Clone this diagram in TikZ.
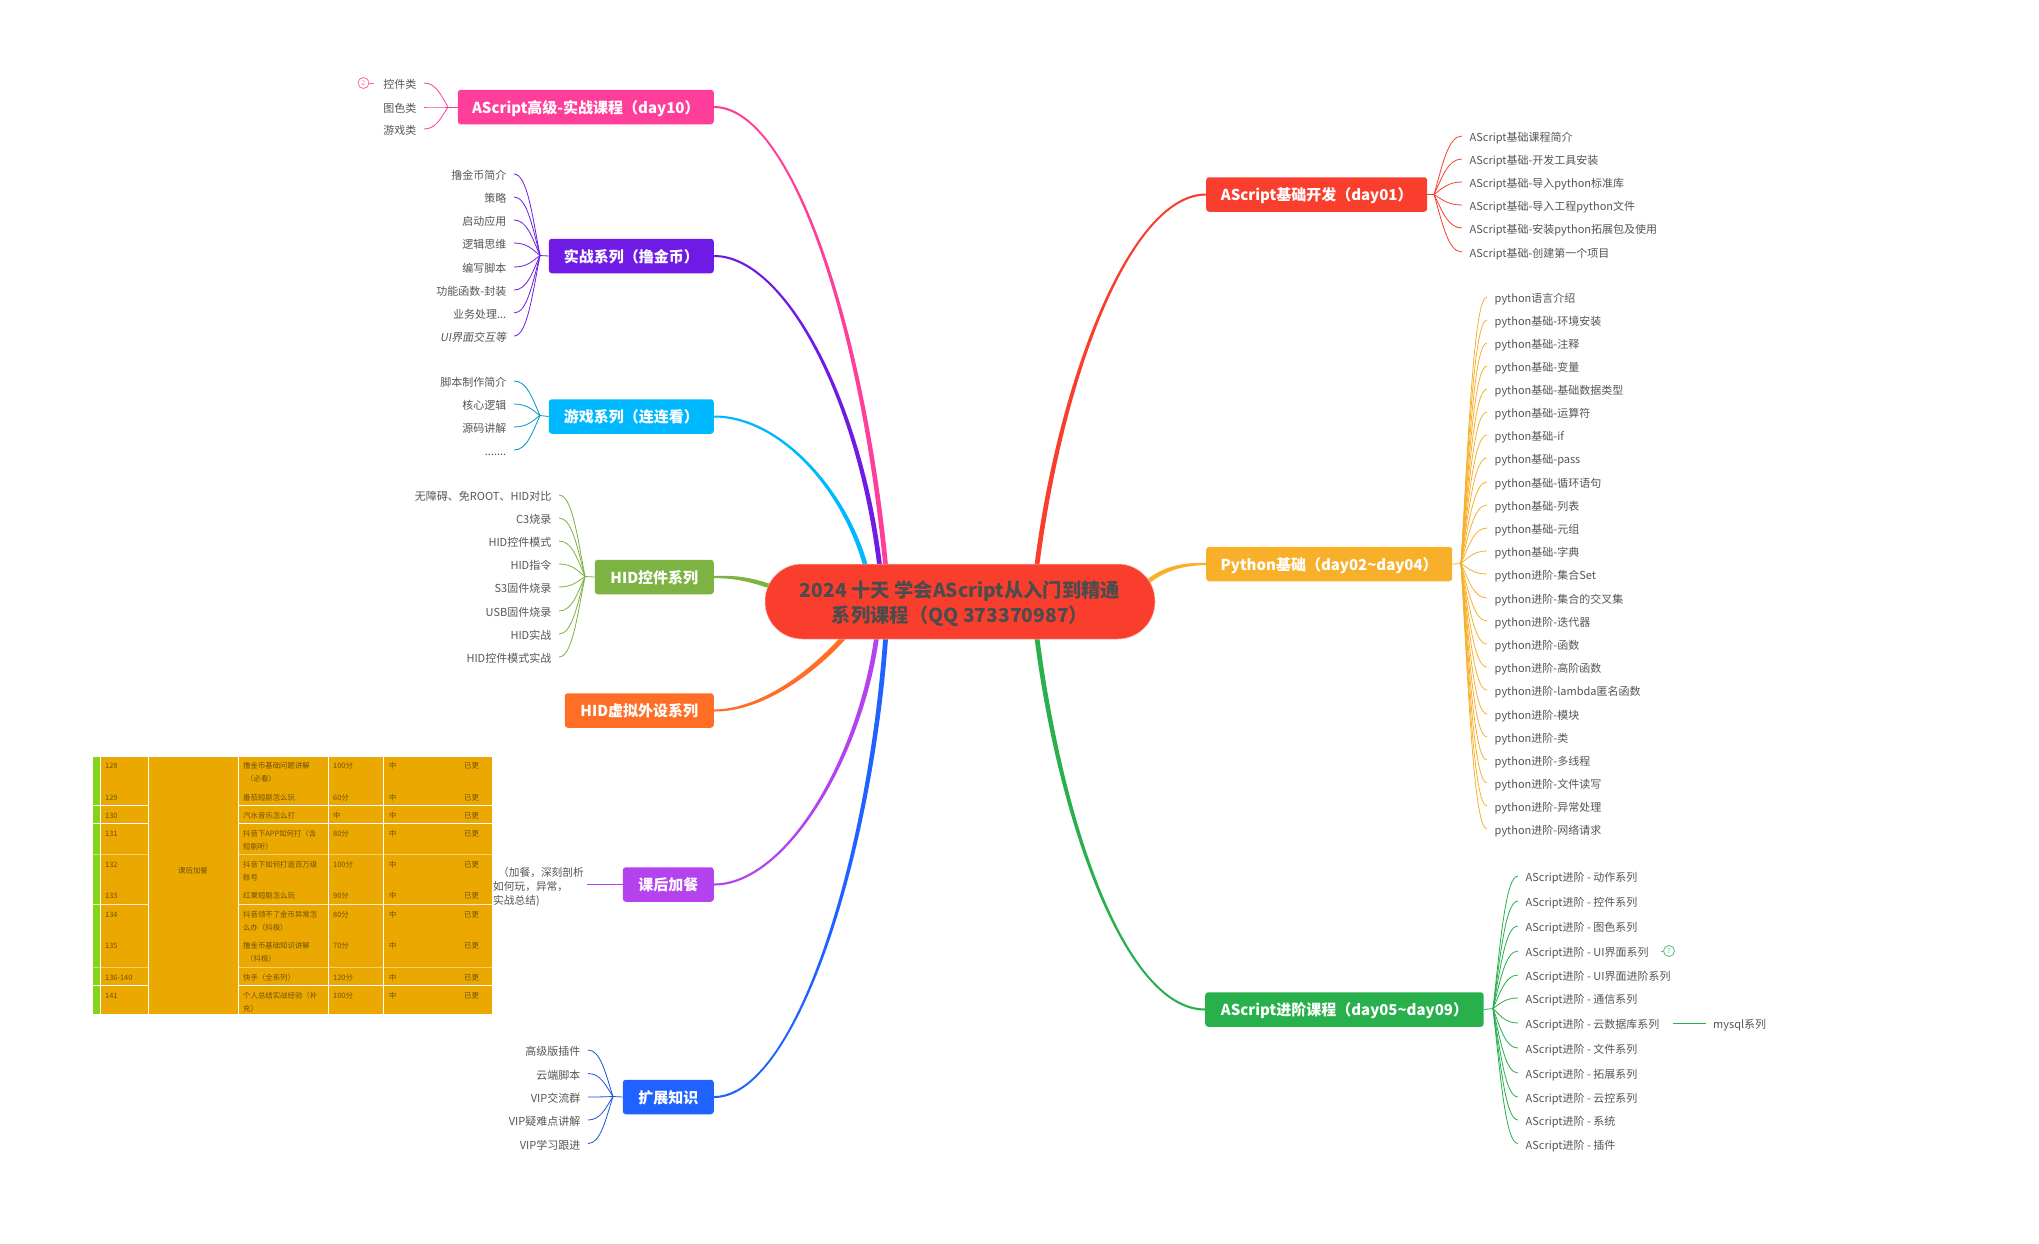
\documentclass[tikz,border=0pt]{standalone}
\usepackage{fontspec}
\setmainfont{Noto Sans CJK SC}
\newfontfamily\slfont[FakeSlant=0.18]{Noto Sans CJK SC}
\usetikzlibrary{calc,backgrounds}
\definecolor{cpink}{HTML}{FF3E9A}
\definecolor{cviolet}{HTML}{701BE5}
\definecolor{ccyan}{HTML}{00B8FF}
\definecolor{colive}{HTML}{7CB342}
\definecolor{corange}{HTML}{FF6D27}
\definecolor{cmauve}{HTML}{B542EF}
\definecolor{cblue}{HTML}{1F62FF}
\definecolor{cred}{HTML}{FA3E2E}
\definecolor{cyellow}{HTML}{F8B02A}
\definecolor{cgreen}{HTML}{27B04B}
\definecolor{ctxt}{HTML}{555555}
\definecolor{camber}{HTML}{EBA800}
\definecolor{cstrip}{HTML}{84D41C}
\definecolor{ctab}{HTML}{6F5206}
\tikzset{
  branchbox/.style={rounded corners=3pt,inner sep=0pt,text=white,anchor=east,minimum height=34.5pt,
    text height=15pt,text depth=2.6pt,font=\fontsize{15}{18}\selectfont\bfseries},
  rootbox/.style={rounded corners=37pt,inner sep=0pt,fill=cred,minimum width=390pt,minimum height=75pt,
    draw=cred!35,line width=.5pt},
  roottext/.style={inner sep=0pt,align=center,text=ctxt!90!black,font=\fontsize{19.3}{25}\selectfont\bfseries},
  leaftext/.style={inner xsep=7.5pt,inner ysep=0pt,text=ctxt,text height=13.5pt,text depth=2pt,
    font=\fontsize{11}{13}\selectfont},
  leafline/.style={line width=.8pt},
  tabcell/.style={inner sep=0pt,anchor=west,text=ctab,font=\fontsize{7.4}{9}\selectfont},
  tabline/.style={white,line width=.8pt},
  markcirc/.style={circle,draw,inner sep=0pt,minimum size=11pt,line width=.8pt,font=\fontsize{6.5}{7}\selectfont},
}
% tapered main connector: colour, start, control 1, control 2, end, half-width vector
\newcommand{\taper}[6]{%
  \coordinate (E) at #5;
  \fill[#1] ($(#2)+(0,-1)$) .. controls ($(#3)+(0,-1.6)$) and ($(#4)+(#6)$) .. ($(E)+(#6)$) -- ($(E)-(#6)$)
     .. controls ($(#4)-(#6)$) and ($(#3)+(0,1.6)$) .. ($(#2)+(0,1)$) -- cycle;}
% leaves: prefix, colour, junction x, y, leaf edge x, anchor, list y/text
\newcommand{\leaves}[7]{%
  \coordinate (#1j) at (#3,#4);
  \foreach \yy/\tt [count=\k] in {#7}{
    \node[leaftext,anchor=#6] (#1\k) at (#5,\yy) {\tt};
    \draw[leafline,#2] (#1j) .. controls ({#3+0.3*(#5-#3)},{#4+0.5*(\yy-#4)}) and ({#3+0.5*(#5-#3)},\yy) .. (#1\k.#6);
  }}
\begin{document}
\begin{tikzpicture}[x=1pt,y=-1pt]
\begin{scope}[on background layer]
  \path[use as bounding box,fill=white] (0,0) rectangle (2039,1243);
\end{scope}

% root
\node[rootbox] (root) at (960,601.5) {};
\node[roottext] (roottxt) at (960,604) {2024 十天 学会AScript从入门到精通\\系列课程（QQ 373370987）};

% branches
\node[branchbox,fill=cpink,minimum width=256pt] (b1) at (714,107) {AScript高级-实战课程（day10）};
\node[branchbox,fill=cviolet,minimum width=165pt] (b2) at (714,256) {实战系列（撸金币）};
\node[branchbox,fill=ccyan,minimum width=165pt] (b3) at (714,416.5) {游戏系列（连连看）};
\node[branchbox,fill=colive,minimum width=119pt] (b4) at (714,577) {HID控件系列};
\node[branchbox,fill=corange,minimum width=149pt] (b5) at (714,710.5) {HID虚拟外设系列};
\node[branchbox,fill=cmauve,minimum width=91pt] (b6) at (714,884.5) {课后加餐};
\node[branchbox,fill=cblue,minimum width=91pt] (b7) at (714,1097) {扩展知识};
\node[branchbox,fill=cred,minimum width=221pt,anchor=west] (b8) at (1206,194.5) {AScript基础开发（day01）};
\node[branchbox,fill=cyellow,minimum width=246pt,anchor=west] (b9) at (1206,564) {Python基础（day02\char"007E day04）};
\node[branchbox,fill=cgreen,minimum width=278.5pt,anchor=west] (b10) at (1205,1009.5) {AScript进阶课程（day05\char"007E day09）};

% main connectors, under the root
\begin{scope}[on background layer]
  \taper{cpink}{b1.east}{790,107}{862,320}{($(root.north west)+(121,3)$)}{2.4,0}
  \taper{cviolet}{b2.east}{785,256}{860,400}{($(root.north west)+(115,3)$)}{2.4,0}
  \taper{ccyan}{b3.east}{780,416.5}{845,490}{($(root.north west)+(101,3)$)}{2.4,0}
  \taper{colive}{b4.east}{735,577}{750,578}{($(root.north west)+(20,28)$)}{.8,-2.2}
  \taper{corange}{b5.east}{760,710.5}{810,675}{($(root.south west)+(80,-3)$)}{-1.8,-1.8}
  \taper{cmauve}{b6.east}{785,884.5}{860,760}{($(root.south west)+(112,-3)$)}{-2.4,0}
  \taper{cblue}{b7.east}{795,1097}{870,860}{($(root.south west)+(121,-3)$)}{-2.4,0}
  \taper{cred}{b8.west}{1130,194.5}{1060,380}{($(root.north west)+(272,3)$)}{-2.4,0}
  \taper{cyellow}{b9.west}{1185,564}{1165,567}{($(root.north east)+(-10,20)$)}{-.9,-2.1}
  \taper{cgreen}{b10.west}{1125,1009.5}{1060,820}{($(root.south west)+(272,-3)$)}{2.4,0}
\end{scope}

% left leaves
\leaves{a}{cpink}{448}{107}{424}{east}{83/{控件类},107/{图色类},129/{游戏类}}
\draw[leafline,cpink] (aj) -- (b1.west);
\node[markcirc,draw=cpink!80,text=cpink!80] (m1) at (363.5,83) {2};
\coordinate (m1e) at (373.5,83);
\draw[leafline,cpink!80] (m1) -- (m1e);

\leaves{c}{cviolet}{540}{255.5}{514}{east}{174/{撸金币简介},197/{策略},220/{启动应用},243/{逻辑思维},267/{编写脚本},290/{功能函数-封装},313/{业务处理...},336/{\slfont UI界面交互等}}
\draw[leafline,cviolet] (cj) -- (b2.west);

\leaves{d}{ccyan!80!black}{540}{415.5}{514}{east}{381/{脚本制作简介},404/{核心逻辑},427/{源码讲解},450/{.......}}
\draw[leafline,ccyan!80!black] (dj) -- (b3.west);

\leaves{e}{colive}{585}{576.5}{559}{east}{495/{无障碍、免ROOT、HID对比},518/{C3烧录},541/{HID控件模式},564/{HID指令},587/{S3固件烧录},611/{USB固件烧录},634/{HID实战},657/{HID控件模式实战}}
\draw[leafline,colive] (ej) -- (b4.west);

\node[inner sep=0pt,anchor=west,text=ctxt,align=left,font=\fontsize{10.7}{14}\selectfont] (f1) at (493,886.5) {\hspace*{5pt}（加餐，深刻剖析\\如何玩，异常，\\实战总结)};
\coordinate (f1e) at (587,884.5);
\draw[leafline,cmauve] (f1e) -- (b6.west);

\leaves{g}{cblue!85!black}{613}{1096.5}{588}{east}{1050/{高级版插件},1073.5/{云端脚本},1097/{VIP交流群},1120/{VIP疑难点讲解},1143.5/{VIP学习跟进}}
\draw[leafline,cblue!85!black] (gj) -- (b7.west);

% right leaves
\leaves{h}{cred}{1434}{194.5}{1462}{west}{136/{AScript基础课程简介},159/{AScript基础-开发工具安装},182/{AScript基础-导入python标准库},205/{AScript基础-导入工程python文件},228/{AScript基础-安装python拓展包及使用},252/{AScript基础-创建第一个项目}}
\draw[leafline,cred] (hj) -- (b8.east);

\leaves{p}{cyellow}{1461}{563.5}{1487}{west}{297/{python语言介绍},320/{python基础-环境安装},343/{python基础-注释},366/{python基础-变量},389/{python基础-基础数据类型},412/{python基础-运算符},435/{python基础-if},458/{python基础-pass},482/{python基础-循环语句},505/{python基础-列表},528/{python基础-元组},551/{python基础-字典},574/{python进阶-集合Set},598/{python进阶-集合的交叉集},621/{python进阶-迭代器},644/{python进阶-函数},667/{python进阶-高阶函数},690/{python进阶-lambda匿名函数},714/{python进阶-模块},737/{python进阶-类},760/{python进阶-多线程},783/{python进阶-文件读写},806/{python进阶-异常处理},829/{python进阶-网络请求}}
\draw[leafline,cyellow] (pj) -- (b9.east);

\leaves{q}{cgreen}{1493}{1008.5}{1518}{west}{876/{AScript进阶 - 动作系列},901/{AScript进阶 - 控件系列},926/{AScript进阶 - 图色系列},951/{AScript进阶 - UI界面系列},975/{AScript进阶 - UI界面进阶系列},998/{AScript进阶 - 通信系列},1023/{AScript进阶 - 云数据库系列},1048/{AScript进阶 - 文件系列},1073/{AScript进阶 - 拓展系列},1097/{AScript进阶 - 云控系列},1120/{AScript进阶 - 系统},1143.5/{AScript进阶 - 插件}}
\draw[leafline,cgreen] (qj) -- (b10.east);

\node[markcirc,draw=cgreen!80,text=cgreen!80] (m2) at (1669,951) {7};
\coordinate (m2e) at (1661,951);
\draw[leafline,cgreen!80] (m2) -- (m2e);

\node[leaftext,anchor=west] (q7a) at (1705.5,1023) {mysql系列};
\coordinate (q7b) at (1673,1023);
\draw[leafline,cgreen] (q7b) -- (q7a.west);

% pasted table
\fill[camber] (93,757) rectangle (492,1014);
\fill[cstrip] (93,757) rectangle (100,1014);
\foreach \xx in {100,148,238,328,383}{\draw[tabline] (\xx,757) -- (\xx,1014);}
\foreach \yy/\op in {805/1,823/1,854/.45,904/.8,967/.45,985/1}{
  \draw[tabline,opacity=\op] (93,\yy) -- (148,\yy);
  \draw[tabline,opacity=\op] (238,\yy) -- (492,\yy);
}
\foreach \xx/\yy/\tt [count=\k] in {
 105/766/128,243/766/{撸金币基础问题讲解},246/779/{（必看）},333/766/{100分},389/766/{中},464/766/{已更},
 105/798/129,243/798/{番茄短剧怎么玩},333/798/{60分},389/798/{中},464/798/{已更},
 105/816/130,243/816/{汽水音乐怎么打},333/816/{中},389/816/{中},464/816/{已更},
 105/834/131,243/834/{抖音下APP如何打（含},243/847/{短剧听）},333/834/{80分},389/834/{中},464/834/{已更},
 105/865/132,243/865/{抖音下如何打造百万级},243/878/{账号},333/865/{100分},389/865/{中},464/865/{已更},
 105/896/133,243/896/{红果短剧怎么玩},333/896/{90分},389/896/{中},464/896/{已更},
 105/915/134,243/915/{抖音领不了金币异常怎},243/928/{么办（抖极）},333/915/{80分},389/915/{中},464/915/{已更},
 105/946/135,243/946/{撸金币基础知识讲解},246/959/{（抖极）},333/946/{70分},389/946/{中},464/946/{已更},
 105/978/{136-140},243/978/{快手（全系列）},333/978/{120分},389/978/{中},464/978/{已更},
 105/996/141,243/996/{个人总结实战经验（补},243/1009/{充）},333/996/{100分},389/996/{中},464/996/{已更},
 178/871/{课后加餐}}{
  \node[tabcell] (t\k) at (\xx,\yy) {\tt};
}
\end{tikzpicture}
\end{document}
